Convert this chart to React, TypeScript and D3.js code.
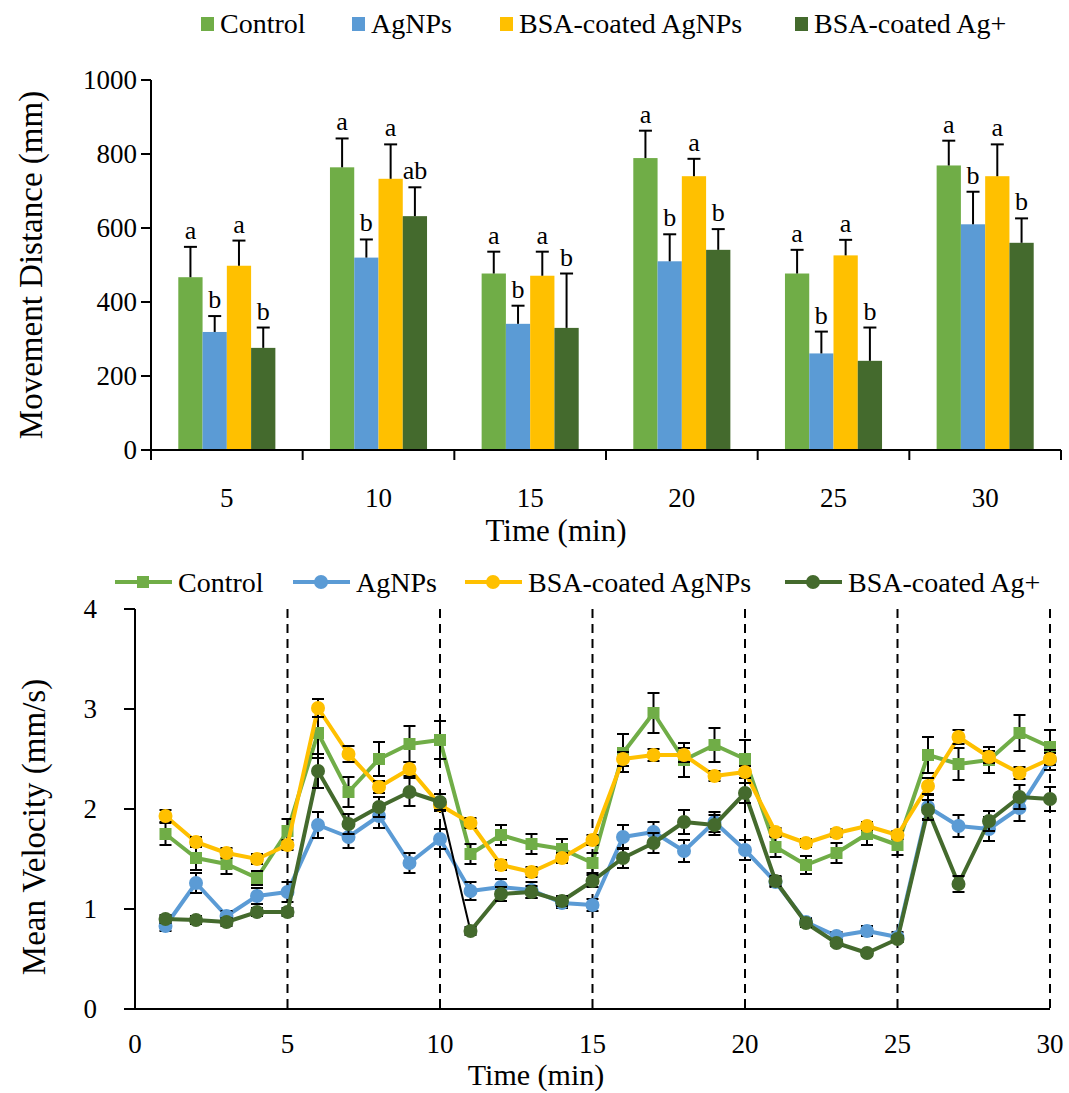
import React from 'react';
import * as d3 from 'd3';

// ---------- Data: top bar chart ----------
const groups = ['5', '10', '15', '20', '25', '30'];
const seriesNames = ['Control', 'AgNPs', 'BSA-coated AgNPs', 'BSA-coated Ag+'];
const seriesColors = ['#70AD47', '#5B9BD5', '#FFC000', '#446A2D'];

const controlDist = [467, 764, 477, 789, 477, 769];
const agnpsDist = [319, 520, 341, 510, 261, 610];
const bsaAgnpsDist = [498, 733, 471, 740, 526, 740];
const bsaAgDist = [276, 632, 330, 541, 241, 560];

const controlDistErr = [82, 78, 59, 74, 64, 67];
const agnpsDistErr = [43, 49, 49, 73, 59, 88];
const bsaAgnpsDistErr = [68, 93, 65, 47, 42, 86];
const bsaAgDistErr = [55, 78, 147, 56, 90, 66];

const controlLetters = ['a', 'a', 'a', 'a', 'a', 'a'];
const agnpsLetters = ['b', 'b', 'b', 'b', 'b', 'b'];
const bsaAgnpsLetters = ['a', 'a', 'a', 'a', 'a', 'a'];
const bsaAgLetters = ['b', 'ab', 'b', 'b', 'b', 'b'];

const distTicks = [0, 200, 400, 600, 800, 1000];

// ---------- Data: bottom line chart ----------
const minutes = [1, 2, 3, 4, 5, 6, 7, 8, 9, 10, 11, 12, 13, 14, 15, 16, 17, 18, 19, 20, 21, 22, 23, 24, 25, 26, 27, 28, 29, 30];

const controlVel = [1.75, 1.51, 1.45, 1.31, 1.78, 2.76, 2.17, 2.50, 2.65, 2.69, 1.55, 1.74, 1.65, 1.60, 1.46, 2.56, 2.96, 2.49, 2.64, 2.50, 1.62, 1.44, 1.56, 1.75, 1.64, 2.54, 2.45, 2.49, 2.76, 2.62];
const controlVelErr = [0.11, 0.12, 0.10, 0.07, 0.12, 0.25, 0.15, 0.17, 0.18, 0.19, 0.10, 0.10, 0.10, 0.10, 0.10, 0.19, 0.20, 0.17, 0.17, 0.19, 0.10, 0.09, 0.10, 0.11, 0.10, 0.18, 0.16, 0.13, 0.18, 0.17];

const agnpsVel = [0.83, 1.26, 0.93, 1.13, 1.17, 1.84, 1.72, 1.93, 1.46, 1.70, 1.18, 1.22, 1.19, 1.06, 1.04, 1.72, 1.77, 1.58, 1.87, 1.59, 1.27, 0.87, 0.73, 0.78, 0.72, 2.02, 1.83, 1.80, 2.01, 2.49];
const agnpsVelErr = [0.05, 0.10, 0.05, 0.08, 0.10, 0.13, 0.11, 0.12, 0.10, 0.10, 0.09, 0.08, 0.08, 0.05, 0.06, 0.12, 0.10, 0.11, 0.10, 0.10, 0.05, 0.04, 0.04, 0.05, 0.05, 0.12, 0.11, 0.12, 0.13, 0.10];

const bsaAgnpsVel = [1.93, 1.67, 1.56, 1.50, 1.64, 3.01, 2.55, 2.22, 2.40, 2.04, 1.86, 1.44, 1.37, 1.51, 1.69, 2.50, 2.54, 2.54, 2.33, 2.37, 1.77, 1.66, 1.76, 1.83, 1.74, 2.23, 2.72, 2.52, 2.36, 2.50];
const bsaAgnpsVelErr = [0.06, 0.05, 0.05, 0.05, 0.05, 0.09, 0.08, 0.06, 0.07, 0.06, 0.05, 0.05, 0.05, 0.05, 0.05, 0.07, 0.06, 0.07, 0.05, 0.06, 0.04, 0.04, 0.04, 0.04, 0.04, 0.08, 0.07, 0.06, 0.06, 0.06];

const bsaAgVel = [0.90, 0.89, 0.87, 0.97, 0.97, 2.38, 1.85, 2.02, 2.17, 2.07, 0.78, 1.15, 1.17, 1.08, 1.28, 1.51, 1.66, 1.87, 1.84, 2.16, 1.28, 0.86, 0.66, 0.56, 0.70, 1.99, 1.25, 1.88, 2.12, 2.10];
const bsaAgVelErr = [0.04, 0.04, 0.04, 0.04, 0.04, 0.17, 0.10, 0.10, 0.14, 0.08, 0.04, 0.07, 0.06, 0.05, 0.06, 0.10, 0.10, 0.12, 0.10, 0.10, 0.05, 0.04, 0.03, 0.03, 0.03, 0.10, 0.08, 0.10, 0.12, 0.12];

const velTicks = [0, 1, 2, 3, 4];
const timeTicks = [0, 5, 10, 15, 20, 25, 30];
const dividers = [5, 10, 15, 20, 25, 30];
const markerShapes = ['square', 'circle', 'circle', 'circle'];
// segment drawn as a thin black connector in the original (Ag+ series, 10 -> 11 min)
const blackSegmentStart = [3, 10];

const FONT = "'Liberation Serif', 'Times New Roman', Times, 'DejaVu Serif', serif";
const TS: React.CSSProperties = { fontFamily: FONT };

export default function App() {
  const W = 1069;
  const H = 1093;

  // ---- top chart scales ----
  const tLeft = 151, tRight = 1061, tTop = 80, tBottom = 450;
  const x0 = d3.scaleBand<string>().domain(groups).range([tLeft, tRight]).paddingInner(0.36).paddingOuter(0.18);
  const x1 = d3.scaleBand<string>().domain(seriesNames).range([0, x0.bandwidth()]);
  const yD = d3.scaleLinear().domain([0, 1000]).range([tBottom, tTop]);
  const distSeries = [controlDist, agnpsDist, bsaAgnpsDist, bsaAgDist];
  const distErr = [controlDistErr, agnpsDistErr, bsaAgnpsDistErr, bsaAgDistErr];
  const letters = [controlLetters, agnpsLetters, bsaAgnpsLetters, bsaAgLetters];
  const step = x0.step();

  // ---- bottom chart scales ----
  const bLeft = 135, bRight = 1050, bTop = 609, bBottom = 1009;
  const xT = d3.scaleLinear().domain([0, 30]).range([bLeft, bRight]);
  const yV = d3.scaleLinear().domain([0, 4]).range([bBottom, bTop]);
  const velSeries = [controlVel, agnpsVel, bsaAgnpsVel, bsaAgVel];
  const velErr = [controlVelErr, agnpsVelErr, bsaAgnpsVelErr, bsaAgVelErr];

  const topLegendX = [201, 352, 500, 795];
  const botLegendX = [115, 293, 465, 785];

  return (
    <svg width={W} height={H} style={{ position: 'absolute', left: 0, top: 0, background: '#fff', fontFamily: FONT }}>
      <rect x={0} y={0} width={W} height={H} fill="#fff" />

      {/* ===== TOP LEGEND ===== */}
      {seriesNames.map((n, i) => (
        <g key={'tl' + i}>
          <rect x={topLegendX[i]} y={17} width={13} height={14} fill={seriesColors[i]} />
          <text x={topLegendX[i] + 19} y={33} fontSize={28} fill="#000" style={TS}>{n}</text>
        </g>
      ))}

      {/* ===== TOP BAR CHART ===== */}
      {groups.map((g, gi) => (
        <g key={'grp' + g}>
          {distSeries.map((s, si) => {
            const bx = (x0(g) as number) + (x1(seriesNames[si]) as number);
            const bw = x1.bandwidth();
            const cx = bx + bw / 2;
            const top = yD(s[gi]);
            const eTop = yD(s[gi] + distErr[si][gi]);
            return (
              <g key={'b' + si}>
                <rect x={bx} y={top} width={bw} height={tBottom - top} fill={seriesColors[si]} />
                <line x1={cx} x2={cx} y1={top} y2={eTop} stroke="#000" strokeWidth={2} />
                <line x1={cx - 6.5} x2={cx + 6.5} y1={eTop} y2={eTop} stroke="#000" strokeWidth={2} />
                <text x={cx} y={eTop - 8} fontSize={26} textAnchor="middle" fill="#000" style={TS}>{letters[si][gi]}</text>
              </g>
            );
          })}
        </g>
      ))}
      {/* axes */}
      <line x1={tLeft} x2={tLeft} y1={tTop} y2={tBottom} stroke="#000" strokeWidth={2} />
      {distTicks.map((t) => (
        <g key={'dt' + t}>
          <line x1={tLeft - 10} x2={tLeft} y1={yD(t)} y2={yD(t)} stroke="#000" strokeWidth={2} />
          <text x={tLeft - 14} y={yD(t)} dy="0.35em" fontSize={27} textAnchor="end" fill="#000" style={TS}>{t}</text>
        </g>
      ))}
      <line x1={tLeft - 10} x2={tRight} y1={tBottom} y2={tBottom} stroke="#000" strokeWidth={2} />
      {d3.range(groups.length + 1).map((i) => (
        <line key={'xt' + i} x1={tLeft + i * step} x2={tLeft + i * step} y1={tBottom} y2={tBottom + 10} stroke="#000" strokeWidth={2} />
      ))}
      {groups.map((g) => (
        <text key={'gl' + g} x={(x0(g) as number) + x0.bandwidth() / 2} y={507} fontSize={27} textAnchor="middle" fill="#000" style={TS}>{g}</text>
      ))}
      <text x={556} y={541} fontSize={31} textAnchor="middle" fill="#000" style={TS}>Time (min)</text>
      <text transform={`translate(42,265) rotate(-90)`} fontSize={33} textAnchor="middle" fill="#000" style={TS}>Movement Distance (mm)</text>

      {/* ===== BOTTOM LEGEND ===== */}
      {seriesNames.map((n, i) => {
        const lx = botLegendX[i];
        const mx = lx + 28;
        return (
          <g key={'bl' + i}>
            <line x1={lx} x2={lx + 57} y1={582} y2={582} stroke={seriesColors[i]} strokeWidth={4} />
            {markerShapes[i] === 'square' ? (
              <rect x={mx - 6} y={576} width={12} height={12} fill={seriesColors[i]} />
            ) : (
              <circle cx={mx} cy={582} r={7} fill={seriesColors[i]} />
            )}
            <text x={lx + 63} y={592} fontSize={28} fill="#000" style={TS}>{n}</text>
          </g>
        );
      })}

      {/* ===== BOTTOM LINE CHART ===== */}
      {dividers.map((d) => (
        <line key={'dv' + d} x1={xT(d)} x2={xT(d)} y1={bTop} y2={bBottom} stroke="#000" strokeWidth={2} strokeDasharray="9,6" />
      ))}
      <line x1={bLeft} x2={bLeft} y1={bTop} y2={bBottom} stroke="#000" strokeWidth={2} />
      {velTicks.map((t) => (
        <g key={'vt' + t}>
          <line x1={bLeft - 11} x2={bLeft} y1={yV(t)} y2={yV(t)} stroke="#000" strokeWidth={2} />
          <text x={97} y={yV(t)} dy="0.35em" fontSize={27} textAnchor="end" fill="#000" style={TS}>{t}</text>
        </g>
      ))}
      <line x1={bLeft - 11} x2={bRight} y1={bBottom} y2={bBottom} stroke="#000" strokeWidth={2} />
      {timeTicks.map((t) => (
        <text key={'tt' + t} x={xT(t)} y={1053} fontSize={27} textAnchor="middle" fill="#000" style={TS}>{t}</text>
      ))}
      <text x={536} y={1085} fontSize={30} textAnchor="middle" fill="#000" style={TS}>Time (min)</text>
      <text transform={`translate(45,827) rotate(-90)`} fontSize={33} textAnchor="middle" fill="#000" style={TS}>Mean Velocity (mm/s)</text>

      {velSeries.map((s, si) => {
        const col = seriesColors[si];
        const segs = d3.range(s.length - 1);
        return (
          <g key={'vs' + si}>
            {segs.map((k) => {
              const black = blackSegmentStart[0] === si && blackSegmentStart[1] === minutes[k];
              return (
                <line
                  key={'sg' + k}
                  x1={xT(minutes[k])}
                  y1={yV(s[k])}
                  x2={xT(minutes[k + 1])}
                  y2={yV(s[k + 1])}
                  stroke={black ? '#000' : col}
                  strokeWidth={black ? 2 : 4}
                  strokeLinecap="round"
                />
              );
            })}
            {s.map((v, k) => {
              const cx = xT(minutes[k]);
              const e = velErr[si][k];
              return (
                <g key={'eb' + k}>
                  <line x1={cx} x2={cx} y1={yV(v - e)} y2={yV(v + e)} stroke="#000" strokeWidth={2} />
                  <line x1={cx - 6} x2={cx + 6} y1={yV(v + e)} y2={yV(v + e)} stroke="#000" strokeWidth={2} />
                  <line x1={cx - 6} x2={cx + 6} y1={yV(v - e)} y2={yV(v - e)} stroke="#000" strokeWidth={2} />
                </g>
              );
            })}
            {s.map((v, k) => {
              const cx = xT(minutes[k]);
              const cy = yV(v);
              return markerShapes[si] === 'square' ? (
                <rect key={'mk' + k} x={cx - 6} y={cy - 6} width={12} height={12} fill={col} />
              ) : (
                <circle key={'mk' + k} cx={cx} cy={cy} r={7} fill={col} />
              );
            })}
          </g>
        );
      })}
    </svg>
  );
}
